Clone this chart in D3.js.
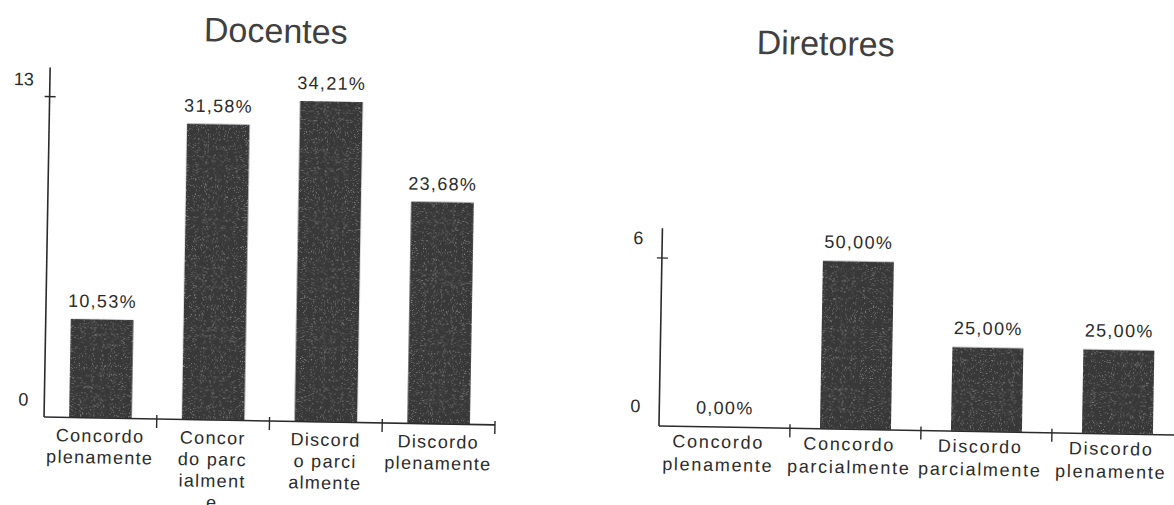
<!DOCTYPE html>
<html>
<head>
<meta charset="utf-8">
<script src="https://cdn.jsdelivr.net/npm/d3@7"></script>
<style>
  html, body { margin: 0; padding: 0; background: #fff; }
  svg { display: block; }
  text { font-family: "Liberation Sans", Arial, sans-serif; }
</style>
</head>
<body>
<svg id="chart" width="1174" height="505"></svg>
<script>
// Answer categories and counts for each group
const categories = ["Concordo plenamente", "Concordo parcialmente", "Discordo parcialmente", "Discordo plenamente"];

const docentesCounts = [4, 12, 13, 9];
const docentesYTicks = [0, 13];
const docentesTickLines = [
  ["Concordo", "plenamente"],
  ["Concor", "do parc", "ialment", "e"],
  ["Discord", "o parci", "almente"],
  ["Discordo", "plenamente"]
];

const diretoresCounts = [0, 6, 3, 3];
const diretoresYTicks = [0, 6];
const diretoresTickLines = [
  ["Concordo", "plenamente"],
  ["Concordo", "parcialmente"],
  ["Discordo", "parcialmente"],
  ["Discordo", "plenamente"]
];

const ink = "#2b2b2b";
const barFill = "#383838";

const svg = d3.select("#chart");

// Light, sparse grain over the bars
const defs = svg.append("defs");
const grain = defs.append("filter").attr("id", "grain")
  .attr("x", 0).attr("y", 0).attr("width", 1).attr("height", 1);
grain.append("feTurbulence").attr("type", "fractalNoise")
  .attr("baseFrequency", 0.9).attr("numOctaves", 2).attr("seed", 7).attr("result", "noise");
grain.append("feColorMatrix").attr("in", "noise").attr("type", "matrix")
  .attr("values", "0 0 0 0 1  0 0 0 0 1  0 0 0 0 1  1.0 0 0 0 -0.6")
  .attr("result", "specks");
grain.append("feComposite").attr("in", "specks").attr("in2", "SourceGraphic")
  .attr("operator", "in").attr("result", "specksIn");
const merge = grain.append("feMerge");
merge.append("feMergeNode").attr("in", "SourceGraphic");
merge.append("feMergeNode").attr("in", "specksIn");

const page = svg.append("g").attr("transform", "rotate(1, 587, 252)");

const fmtPct = v => (v * 100).toFixed(2).replace(".", ",") + "%";

function drawChart(cfg) {
  const g = page.append("g");
  const n = cfg.counts.length;
  const total = d3.sum(cfg.counts);
  const step = (cfg.x1 - cfg.x0) / n;

  const x = d3.scaleBand()
    .domain(categories)
    .range([cfg.x0, cfg.x1])
    .paddingInner(cfg.pad)
    .paddingOuter(cfg.pad / 2);

  const y = d3.scaleLinear()
    .domain([0, d3.max(cfg.yTicks)])
    .range([cfg.yBase, cfg.yMax]);

  // Title
  g.append("text")
    .attr("x", cfg.titleX).attr("y", cfg.titleY)
    .attr("text-anchor", "middle")
    .attr("font-size", 34)
    .attr("fill", "#404040")
    .text(cfg.title);

  // Bars
  g.selectAll("rect.bar").data(cfg.counts).join("rect")
    .attr("class", "bar")
    .attr("x", (d, i) => x(categories[i]))
    .attr("width", x.bandwidth())
    .attr("y", d => y(d))
    .attr("height", d => cfg.yBase - y(d))
    .attr("fill", barFill)
    .attr("filter", "url(#grain)");

  // Value labels
  g.selectAll("text.val").data(cfg.counts).join("text")
    .attr("class", "val")
    .attr("x", (d, i) => x(categories[i]) + x.bandwidth() / 2)
    .attr("y", d => y(d) - cfg.valGap)
    .attr("text-anchor", "middle")
    .attr("font-size", 18)
    .attr("letter-spacing", 1.3)
    .attr("fill", ink)
    .text(d => fmtPct(d / total));

  // Y axis line and ticks
  g.append("line")
    .attr("x1", cfg.x0).attr("x2", cfg.x0)
    .attr("y1", cfg.axisTop).attr("y2", cfg.yBase)
    .attr("stroke", ink).attr("stroke-width", 1.6);
  cfg.yTicks.filter(t => t > 0).forEach(t => {
    g.append("line")
      .attr("x1", cfg.x0 - 5).attr("x2", cfg.x0 + 6)
      .attr("y1", y(t)).attr("y2", y(t))
      .attr("stroke", ink).attr("stroke-width", 1.4);
  });
  g.selectAll("text.ytick").data(cfg.yTicks).join("text")
    .attr("class", "ytick")
    .attr("x", cfg.x0 - cfg.yLabelDx)
    .attr("y", d => y(d) - cfg.yLabelLift)
    .attr("text-anchor", "end")
    .attr("font-size", 18)
    .attr("fill", ink)
    .text(d => d);

  // X axis line and category dividers
  g.append("line")
    .attr("x1", cfg.x0).attr("x2", cfg.xAxisEnd)
    .attr("y1", cfg.yBase).attr("y2", cfg.yBase)
    .attr("stroke", ink).attr("stroke-width", 1.6);
  d3.range(1, n + 1).forEach(i => {
    g.append("line")
      .attr("x1", cfg.x0 + i * step).attr("x2", cfg.x0 + i * step)
      .attr("y1", cfg.yBase - 4).attr("y2", cfg.yBase + 9)
      .attr("stroke", ink).attr("stroke-width", 1.4);
  });

  // Category labels
  cfg.tickLines.forEach((lines, i) => {
    const cx = x(categories[i]) + x.bandwidth() / 2 + cfg.catShift;
    const t = g.append("text")
      .attr("text-anchor", "middle")
      .attr("font-size", 18)
      .attr("letter-spacing", cfg.catSpacing)
      .attr("fill", ink);
    lines.forEach((line, j) => {
      t.append("tspan")
        .attr("x", cx)
        .attr("y", cfg.yBase + cfg.catFirst + j * cfg.catStep)
        .text(line);
    });
  });
}

drawChart({
  title: "Docentes", titleX: 272, titleY: 48,
  counts: docentesCounts, yTicks: docentesYTicks, tickLines: docentesTickLines,
  x0: 47, x1: 498, xAxisEnd: 498, pad: 0.445,
  yBase: 426.5, yMax: 106, axisTop: 77,
  valGap: 12, yLabelDx: 16, yLabelLift: 11,
  catFirst: 24, catStep: 21.5, catSpacing: 1.3, catShift: 0
});

drawChart({
  title: "Diretores", titleX: 822, titleY: 51,
  counts: diretoresCounts, yTicks: diretoresYTicks, tickLines: diretoresTickLines,
  x0: 662, x1: 1186, xAxisEnd: 1200, pad: 0.458,
  yBase: 424.7, yMax: 256.7, axisTop: 227,
  valGap: 13, yLabelDx: 19, yLabelLift: 13.5,
  catFirst: 21, catStep: 23, catSpacing: 1.7, catShift: -6
});
</script>
</body>
</html>
